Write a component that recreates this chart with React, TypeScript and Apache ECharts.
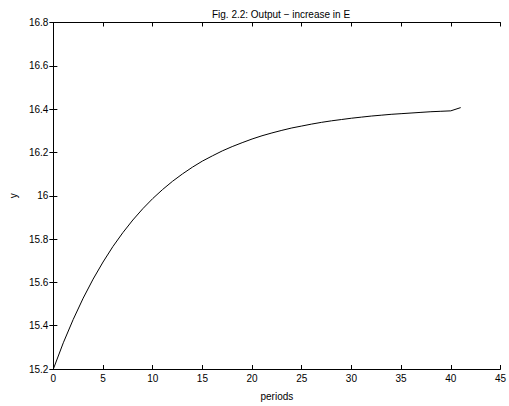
import React, { useEffect, useRef } from "react";
import * as echarts from "echarts";

const periods: number[] = [
  0, 1, 2, 3, 4, 5, 6, 7, 8, 9, 10, 11, 12, 13, 14, 15, 16, 17, 18, 19, 20,
  21, 22, 23, 24, 25, 26, 27, 28, 29, 30, 31, 32, 33, 34, 35, 36, 37, 38, 39, 40, 41,
];
const output: number[] = [
  15.2, 15.321, 15.429, 15.527, 15.615, 15.694, 15.766, 15.83, 15.888, 15.94, 15.987,
  16.029, 16.067, 16.101, 16.132, 16.16, 16.184, 16.207, 16.227, 16.245, 16.262,
  16.277, 16.29, 16.302, 16.313, 16.322, 16.331, 16.339, 16.346, 16.352, 16.358,
  16.363, 16.368, 16.372, 16.376, 16.379, 16.382, 16.385, 16.388, 16.39, 16.392, 16.407,
];
const titleText = "Fig. 2.2: Output \u2212 increase in E";
const xName = "periods";
const yName = "y";

export default function App() {
  const ref = useRef<HTMLDivElement>(null);
  useEffect(() => {
    document.body.style.margin = "0";
    const chart = echarts.init(ref.current!, null, { renderer: "svg" });
    const font = "Liberation Sans, Arial, Helvetica, sans-serif";
    const axisCommon = {
      axisLine: { show: true, lineStyle: { color: "#000", width: 1 } },
      axisTick: { show: true, inside: true, length: 4, lineStyle: { color: "#000", width: 1 } },
      splitLine: { show: false },
    };
    chart.setOption({
      animation: false,
      backgroundColor: "#fff",
      title: {
        text: titleText,
        left: 276,
        top: 4,
        textAlign: "center",
        textStyle: { fontFamily: font, fontSize: 10, fontWeight: "normal", color: "#000" },
      },
      grid: { left: 47.5, right: 4, top: 22.5, bottom: 29.5 },
      xAxis: [
        {
          type: "value",
          min: 0,
          max: 45,
          interval: 5,
          position: "bottom",
          name: xName,
          nameLocation: "middle",
          nameGap: 22,
          nameTextStyle: { fontFamily: font, fontSize: 10, color: "#000" },
          axisLabel: { fontFamily: font, fontSize: 10, color: "#000", margin: 4, showMaxLabel: true },
          ...axisCommon,
        },
        {
          type: "value",
          min: 0,
          max: 45,
          interval: 5,
          position: "top",
          axisLabel: { show: false },
          ...axisCommon,
        },
      ],
      yAxis: [
        {
          type: "value",
          min: 15.2,
          max: 16.8,
          interval: 0.2,
          position: "left",
          name: yName,
          nameLocation: "middle",
          nameGap: 31,
          nameTextStyle: { fontFamily: font, fontSize: 10, color: "#000" },
          axisLabel: {
            fontFamily: font,
            fontSize: 10,
            color: "#000",
            margin: 5,
            formatter: (v: number) => String(Math.round(v * 10) / 10),
          },
          ...axisCommon,
        },
        {
          type: "value",
          min: 15.2,
          max: 16.8,
          interval: 0.2,
          position: "right",
          axisLabel: { show: false },
          ...axisCommon,
        },
      ],
      series: [
        {
          type: "line",
          data: periods.map((p, i) => [p, output[i]]),
          showSymbol: false,
          symbol: "none",
          lineStyle: { color: "#000", width: 1 },
          xAxisIndex: 0,
          yAxisIndex: 0,
        },
      ],
    });
    return () => chart.dispose();
  }, []);
  return <div ref={ref} style={{ width: 509, height: 406 }} />;
}
